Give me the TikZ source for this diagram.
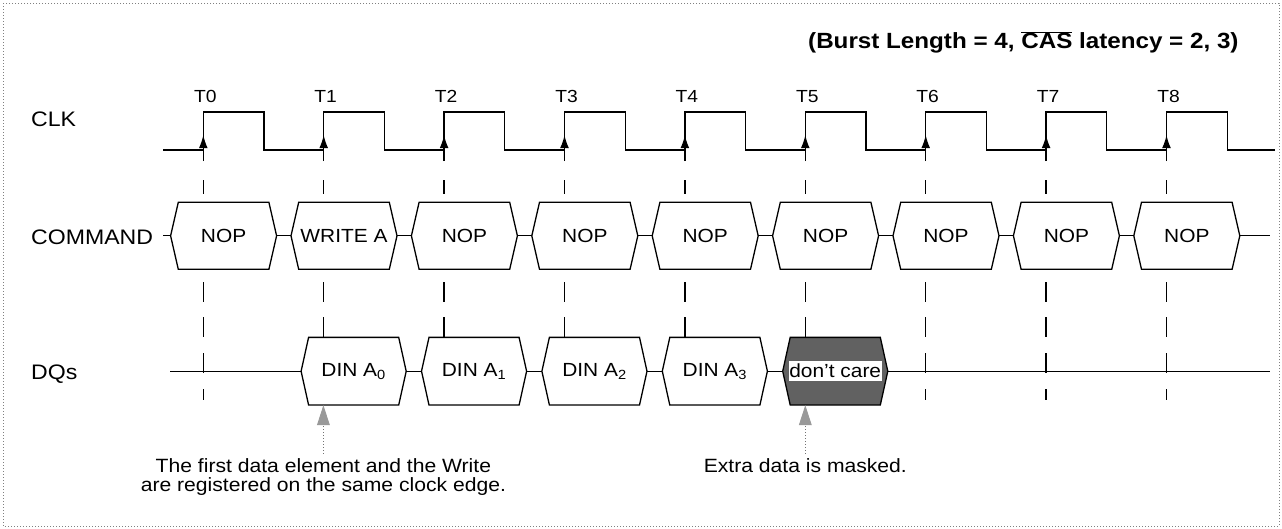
\documentclass[tikz,border=0pt]{standalone}
\usepackage{fontspec}
\setmainfont[FakeStretch=1.1]{Liberation Sans}
\usetikzlibrary{arrows.meta,calc}
\begin{document}
\begin{tikzpicture}[x=1pt,y=-1pt,
  every node/.style={inner sep=0pt},
  sig/.style={line width=1.3pt},
  hex/.style={draw, line width=1.3pt, fill=white, line join=miter},
  masked/.style={draw, line width=1.3pt, fill=black!62, line join=miter},
  vdash/.style={line width=1.3pt},
  lbl/.style={font=\fontsize{21}{25}\selectfont, anchor=base west},
  tlbl/.style={font=\fontsize{17.5}{21}\selectfont, anchor=base},
  boxtxt/.style={font=\fontsize{19}{23}\selectfont, minimum width=90pt, minimum height=67.5pt},
  note/.style={font=\fontsize{19.2}{18.4}\selectfont, align=center, anchor=north},
  callout/.style={draw=black!55, dotted, line width=1pt, -{Triangle[length=20pt,width=12.7pt,color=black!40]}, shorten <=5pt},
  border/.style={draw=black!50, dotted, line width=1pt}
]
\useasboundingbox (0,0) rectangle (1282,528);
\draw[border] (3,3) rectangle (1279,526);

% title
\node[anchor=base west, font=\fontsize{22}{26}\selectfont\bfseries] (title) at (808,48.5)
  {(Burst Length = 4, $\overline{\mbox{CAS}}$ latency = 2, 3)};

% signal labels
\node[lbl] (lclk) at (31,126) {CLK};
\node[lbl] (lcmd) at (31,244) {COMMAND};
\node[lbl] (ldq) at (31,379.5) {DQs};

% clock waveform
\draw[sig, line join=miter] (163,150)
  \foreach \k in {0,...,8}{ -- ({203.3+120.4*\k},150) -- ({203.3+120.4*\k},112)
     -- ({264+120.4*\k},112) -- ({264+120.4*\k},150) } -- (1275,150);

% clock labels, edge arrows and dashed guide lines
\foreach \k in {0,...,8}{
  \node[tlbl] (T\k) at ({205.3+120.4*\k},102) {T\k};
  \draw[vdash, -{Latex[length=13pt,width=8.7pt]}] ({203.3+120.4*\k},161) -- ({203.3+120.4*\k},135);
  \foreach \a/\b in {180/194,282/302,317/337,353/373,389/400}
    \draw[vdash] ({203.3+120.4*\k},\a) -- ({203.3+120.4*\k},\b);
}

% COMMAND bus
\coordinate (cmdin) at (163,235.8);
\coordinate (cmdout) at (1270,235.8);
\foreach \k/\txt in {0/NOP,1/WRITE A,2/NOP,3/NOP,4/NOP,5/NOP,6/NOP,7/NOP,8/NOP}{
  \coordinate (cl\k) at ({203.3+120.4*\k-32.7},235.8);
  \coordinate (cr\k) at ({203.3+120.4*\k+73.3},235.8);
  \draw[hex] (cl\k) -- ($(cl\k)+(7.7,-33.5)$) -- ($(cr\k)+(-7.7,-33.5)$) -- (cr\k)
     -- ($(cr\k)+(-7.7,33.5)$) -- ($(cl\k)+(7.7,33.5)$) -- cycle;
  \node[boxtxt, minimum height=67pt] (cmd\k) at ($(cl\k)!0.5!(cr\k)$) {\txt};
}
\draw[sig] (cmdin) -- (cl0);
\foreach \k [evaluate=\k as \nx using {int(\k+1)}] in {0,...,7}
  \draw[sig] (cr\k) -- (cl\nx);
\draw[sig] (cr8) -- (cmdout);

% DQ bus
\coordinate (dqin) at (170,371.2);
\coordinate (dqout) at (1270,371.2);
\foreach \k in {1,...,5}{
  \coordinate (dl\k) at ({203.3+120.4*\k-22.6},371.2);
  \coordinate (dr\k) at ({203.3+120.4*\k+82.5},371.2);
}
\foreach \k/\txt in {1/0,2/1,3/2,4/3}{
  \draw[hex] (dl\k) -- ($(dl\k)+(7.5,-33.85)$) -- ($(dr\k)+(-7.5,-33.85)$) -- (dr\k)
     -- ($(dr\k)+(-7.5,33.85)$) -- ($(dl\k)+(7.5,33.85)$) -- cycle;
  \node[boxtxt] (din\k) at ($(dl\k)!0.5!(dr\k)$) {DIN A\textsubscript{\txt}};
}
\draw[masked] (dl5) -- ($(dl5)+(7.5,-33.85)$) -- ($(dr5)+(-7.5,-33.85)$) -- (dr5)
   -- ($(dr5)+(-7.5,33.85)$) -- ($(dl5)+(7.5,33.85)$) -- cycle;
\node[boxtxt] (din5) at ($(dl5)!0.5!(dr5)$) {};
\node[font=\fontsize{19}{23}\selectfont, fill=white, inner xsep=0.5pt, inner ysep=3pt] (dc) at (din5) {don’t care};
\draw[sig] (dqin) -- (dl1);
\foreach \k [evaluate=\k as \nx using {int(\k+1)}] in {1,...,4}
  \draw[sig] (dr\k) -- (dl\nx);
\draw[sig] (dr5) -- (dqout);

% notes
\node[note] (note1) at (323.4,458.5) {The first data element and the Write\\are registered on the same clock edge.};
\node[note] (note2) at (805.3,458.5) {Extra data is masked.};
\draw[callout] (note1.north) -- (note1.north |- din1.south);
\draw[callout] (note2.north) -- (note2.north |- din5.south);
\end{tikzpicture}
\end{document}
